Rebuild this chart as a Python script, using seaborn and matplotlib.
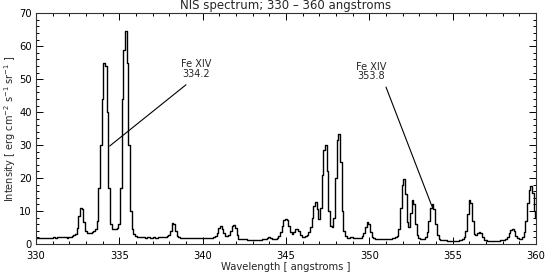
import numpy as np
import pandas as pd
import matplotlib
matplotlib.use("Agg")
import matplotlib.pyplot as plt
from matplotlib.ticker import MultipleLocator
import seaborn as sns

# NIS spectrum, sampled every 0.1 angstrom from 330 to 360
wavelength = np.round(np.arange(330.0, 360.05, 0.1), 1)
intensity = [
    1.8, 1.8, 1.9, 1.8, 1.9, 1.8, 1.9, 1.9, 1.8, 1.9,   # 330
    1.9, 2.0, 1.9, 2.0, 2.0, 2.1, 2.0, 2.1, 2.0, 1.9,   # 331
    2.0, 2.1, 2.3, 2.6, 3.0, 4.8, 8.5, 11.0, 10.5, 6.5,  # 332
    4.0, 3.4, 3.3, 3.4, 3.5, 3.8, 4.5, 7.0, 17.0, 30.0,  # 333
    44.0, 55.0, 54.0, 40.0, 17.0, 6.0, 4.5, 4.4, 4.5, 4.7,  # 334
    6.0, 17.0, 44.0, 59.0, 64.5, 55.0, 30.0, 10.0, 4.5, 3.0,  # 335
    2.5, 2.2, 2.1, 2.0, 2.0, 2.1, 1.9, 2.0, 2.0, 1.9,   # 336
    1.9, 2.0, 1.9, 1.9, 2.0, 2.1, 2.0, 2.0, 2.1, 2.3,   # 337
    2.6, 4.0, 6.2, 6.0, 4.0, 2.5, 2.0, 1.9, 1.8, 1.9,   # 338
    1.8, 1.9, 1.8, 1.8, 1.8, 1.9, 1.8, 1.8, 1.8, 1.8,   # 339
    1.8, 1.7, 1.8, 1.8, 1.8, 1.8, 1.9, 2.0, 2.3, 3.2,   # 340
    4.8, 5.4, 4.6, 3.2, 2.5, 2.4, 2.8, 4.0, 5.3, 5.7,   # 341
    4.8, 2.8, 1.6, 1.5, 1.4, 1.5, 1.4, 1.3, 1.3, 1.3,   # 342
    1.2, 1.3, 1.2, 1.2, 1.3, 1.3, 1.4, 1.5, 1.6, 1.8,   # 343
    2.0, 1.8, 1.6, 1.5, 1.6, 1.8, 2.5, 3.5, 5.5, 7.2,   # 344
    7.7, 7.3, 5.5, 3.5, 3.0, 3.5, 4.4, 4.6, 3.8, 2.6,   # 345
    2.2, 2.2, 2.4, 2.8, 3.5, 5.0, 8.0, 11.5, 12.8, 10.5,  # 346
    7.5, 11.0, 21.0, 28.5, 30.0, 22.0, 10.0, 5.5, 5.0, 8.0,  # 347
    20.0, 31.5, 33.5, 25.0, 10.0, 4.0, 2.3, 1.9, 1.8, 2.0,  # 348
    2.0, 1.8, 1.7, 1.7, 1.8, 1.9, 2.3, 3.2, 5.0, 6.7,   # 349
    6.0, 3.5, 2.1, 1.7, 1.6, 1.5, 1.4, 1.4, 1.5, 1.5,   # 350
    1.5, 1.6, 1.5, 1.6, 1.7, 1.8, 2.0, 2.5, 4.5, 11.0,  # 351
    18.0, 19.8, 15.0, 6.5, 5.0, 9.5, 13.2, 12.0, 6.0, 2.8,  # 352
    1.8, 1.5, 1.5, 1.6, 2.0, 3.5, 7.0, 11.0, 12.2, 10.5,  # 353
    6.0, 2.8, 1.6, 1.3, 1.2, 1.2, 1.1, 1.0, 1.0, 1.0,   # 354
    1.0, 0.9, 1.0, 1.0, 1.1, 1.2, 1.4, 2.0, 4.0, 9.0,   # 355
    13.2, 12.5, 7.0, 3.0, 2.6, 3.2, 3.6, 3.2, 2.0, 1.3,  # 356
    1.1, 1.0, 0.9, 0.9, 0.9, 0.9, 1.0, 1.0, 1.0, 1.1,   # 357
    1.1, 1.2, 1.5, 2.0, 3.2, 4.3, 4.6, 3.8, 2.5, 1.7,   # 358
    1.5, 1.6, 2.0, 3.5, 7.0, 12.5, 16.5, 17.5, 15.5, 10.0,  # 359
    8.0,                                                # 360
]

# line labels: text position, arrow start, arrow end
line_labels = ["Fe XIV\n334.2", "Fe XIV\n353.8"]
label_xy = [(339.6, 53.0), (350.1, 52.3)]
arrow_from = [(339.0, 48.3), (351.0, 47.6)]
arrow_to = [(334.42, 29.7), (353.75, 11.5)]

df = pd.DataFrame({"Wavelength": wavelength, "Intensity": intensity})

sns.set_style("ticks")
plt.rcParams["font.family"] = ["DejaVu Sans"]

fig = plt.figure(figsize=(5.45, 2.8), dpi=100)
ax = fig.add_axes([0.066, 0.129, 0.9175, 0.8235])

sns.lineplot(data=df, x="Wavelength", y="Intensity", ax=ax, color="black",
             linewidth=1.0, drawstyle="steps-mid", estimator=None)

ax.set_xlim(330, 360)
ax.set_ylim(0, 70)
ax.xaxis.set_major_locator(MultipleLocator(5))
ax.xaxis.set_minor_locator(MultipleLocator(1))
ax.yaxis.set_major_locator(MultipleLocator(10))
ax.yaxis.set_minor_locator(MultipleLocator(2))
ax.tick_params(which="both", direction="in", top=True, right=True,
               labelsize=7.2, width=0.7, colors="black")
ax.tick_params(which="major", length=5)
ax.tick_params(which="minor", length=2.5)
ax.tick_params(axis="x", which="major", pad=5)
ax.tick_params(axis="y", which="major", pad=3)
for s in ax.spines.values():
    s.set_linewidth(0.8)
    s.set_color("#333333")

ax.set_xlabel("Wavelength [ angstroms ]", fontsize=7.2, labelpad=1)
ax.set_ylabel("Intensity [ erg cm$^{-2}$ s$^{-1}$ sr$^{-1}$ ]", fontsize=7, labelpad=1)
ax.set_title("NIS spectrum; 330 \u2013 360 angstroms", fontsize=8.5, pad=3)

for txt, (tx, ty), p0, p1 in zip(line_labels, label_xy, arrow_from, arrow_to):
    ax.text(tx, ty, txt, ha="center", va="center", fontsize=7, linespacing=0.95)
    ax.plot([p0[0], p1[0]], [p0[1], p1[1]], color="black", linewidth=0.8)

fig.savefig("out.png", dpi=100)
